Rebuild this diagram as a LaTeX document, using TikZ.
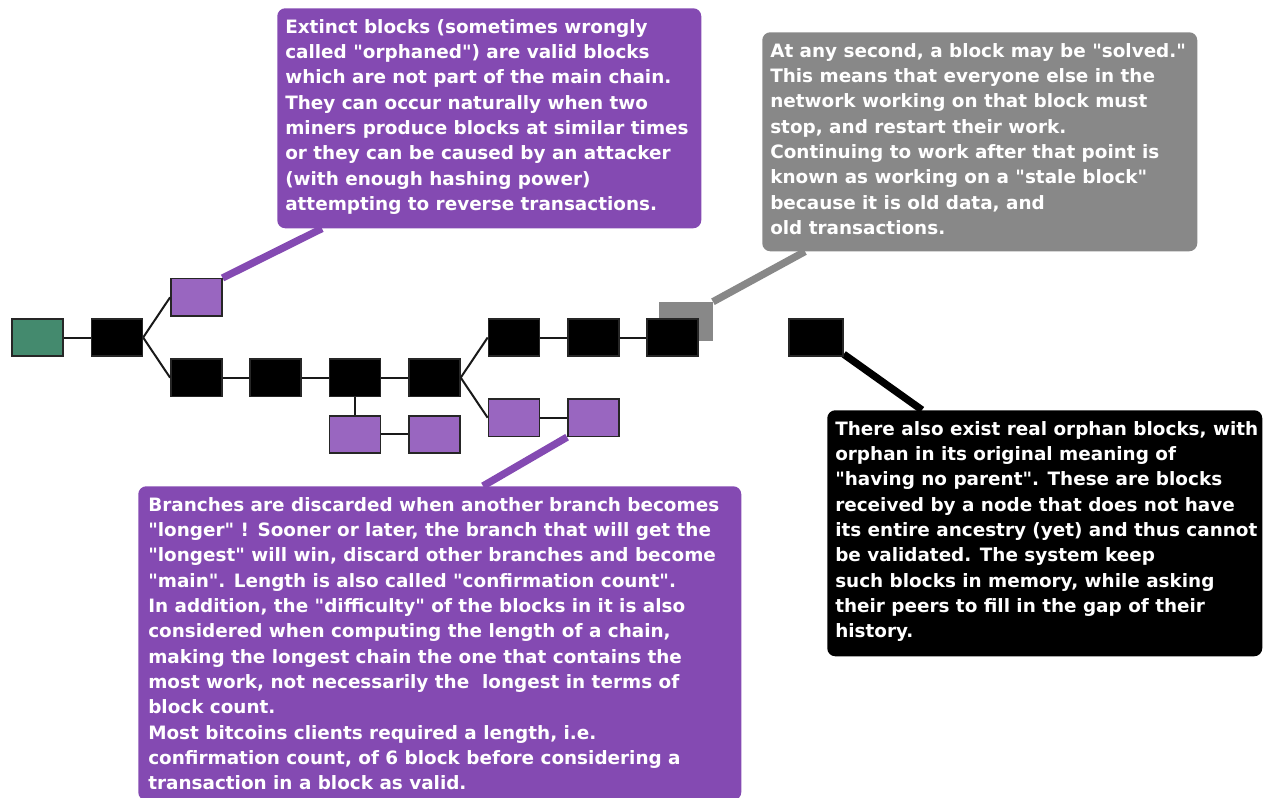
\documentclass[tikz,border=0pt]{standalone}
\usepackage{fontspec}
\setmainfont{DejaVu Sans}[Ligatures=TeXOff]
\usetikzlibrary{positioning,backgrounds}
\definecolor{calloutpurple}{HTML}{844AB2}
\definecolor{blockpurple}{HTML}{9966C0}
\definecolor{stalegray}{HTML}{888888}
\definecolor{genesisgreen}{HTML}{448A6E}
\tikzset{
  block/.style={draw=black!85, line width=1.1pt, fill=black, minimum width=38.25pt, minimum height=28pt, inner sep=0pt},
  extinct/.style={block, fill=blockpurple},
  genesis/.style={block, fill=genesisgreen},
  stale/.style={fill=stalegray, minimum width=40.5pt, minimum height=29.25pt, inner sep=0pt},
  link/.style={line width=1.5pt, black!90},
  callbox/.style={fill=#1, rounded corners=6pt, inner sep=0pt, anchor=north west},
  calltext/.style={text=white, font=\bfseries\fontsize{13.8}{19}\selectfont, align=left, inner sep=0pt, anchor=north west},
  tail/.style={line width=5.5pt, #1}
}

\begin{document}
\begin{tikzpicture}[x=0.75pt, y=-0.75pt, node distance={1pt and 20.2pt}]
  \useasboundingbox (0,0) rectangle (1269,798);

  % the chain
  \node[genesis] (g) at (37.5,337.5) {};
  \node[block] (b1) [right=of g] {};
  \node[extinct] (xt1) [above right=of b1] {};
  \node[block] (m1) [below right=of b1] {};
  \node[block] (m2) [right=of m1] {};
  \node[block] (m3) [right=of m2] {};
  \node[block] (m4) [right=of m3] {};
  \node[extinct] (s1) [below=13.5pt of m3] {};
  \node[extinct] (s2) [right=of s1] {};
  \node[block] (t1) [above right=of m4] {};
  \node[block] (t2) [right=of t1] {};
  \node[block] (t3) [right=of t2] {};
  \node[extinct] (u1) [below right=of m4] {};
  \node[extinct] (u2) [right=of u1] {};
  \node[block, minimum width=40.5pt] (orph) [right=67pt of t3] {};

  \draw[link] (g) -- (b1);
  \draw[link] (b1.east) -- (xt1.west);
  \draw[link] (b1.east) -- (m1.west);
  \draw[link] (m1) -- (m2);
  \draw[link] (m2) -- (m3);
  \draw[link] (m3) -- (m4);
  \draw[link] (m3) -- (s1);
  \draw[link] (s1) -- (s2);
  \draw[link] (m4.east) -- (t1.west);
  \draw[link] (m4.east) -- (u1.west);
  \draw[link] (t1) -- (t2);
  \draw[link] (t2) -- (t3);
  \draw[link] (u1) -- (u2);

  % callouts
  \node[callbox=calloutpurple, minimum width=318pt, minimum height=165pt] (xtbox) at (277,8) {};
  \node[calltext] (xttext) at (285,19) {Extinct blocks (sometimes wrongly\\
called "orphaned") are valid blocks\\
which are not part of the main chain.\\
They can occur naturally when two\\
miners produce blocks at similar times\\
or they can be caused by an attacker\\
(with enough hashing power)\\
attempting to reverse transactions.};

  \node[callbox=stalegray, minimum width=326.25pt, minimum height=164.25pt] (stbox) at (762,32) {};
  \node[calltext] (sttext) at (770,43) {At any second, a block may be "solved."\\
This means that everyone else in the\\
network working on that block must\\
stop, and restart their work.\\
Continuing to work after that point is\\
known as working on a "stale block"\\
because it is old data, and\\
old transactions.};

  \node[callbox=black, minimum width=326.25pt, minimum height=184.5pt] (orbox) at (827,410) {};
  \node[calltext] (ortext) at (835,421) {There also exist real orphan blocks, with\\
orphan in its original meaning of\\
"having no parent". These are blocks\\
received by a node that does not have\\
its entire ancestry (yet) and thus cannot\\
be validated. The system keep\\
such blocks in memory, while asking\\
their peers to fill in the gap of their\\
history.};

  \node[callbox=calloutpurple, minimum width=452.25pt, minimum height=235.5pt] (brbox) at (138,486) {};
  \node[calltext] (brtext) at (148,497) {Branches are discarded when another branch becomes\\
"longer" ! Sooner or later, the branch that will get the\\
"longest" will win, discard other branches and become\\
"main". Length is also called "confirmation count".\\
In addition, the "difficulty" of the blocks in it is also\\
considered when computing the length of a chain,\\
making the longest chain the one that contains the\\
most work, not necessarily the \ longest in terms of\\
block count.\\
Most bitcoins clients required a length, i.e.\\
confirmation count, of 6 block before considering a\\
transaction in a block as valid.};

  \begin{scope}[on background layer]
    \node[stale] (st) at ([xshift=9.75pt, yshift=12pt]t3.center) {};
    \draw[tail=calloutpurple] (xt1.north east) -- ([xshift=33.75pt]xtbox.south west);
    \draw[tail=stalegray] (st.north east) -- ([xshift=32.25pt]stbox.south west);
    \draw[tail=black] ([yshift=2pt]orph.south east) -- ([xshift=71.25pt]orbox.north west);
    \draw[tail=calloutpurple] (u2.south west) -- ([xshift=258.75pt]brbox.north west);
  \end{scope}
\end{tikzpicture}
\end{document}
